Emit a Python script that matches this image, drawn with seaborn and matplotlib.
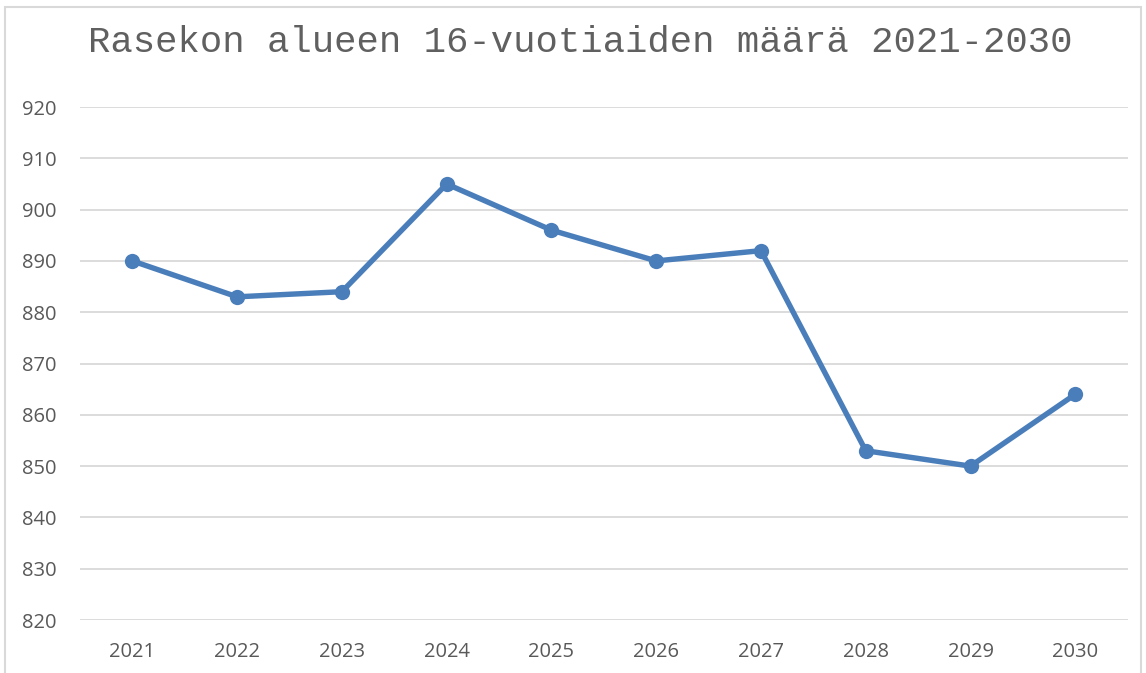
import pandas as pd
import matplotlib.pyplot as plt
import seaborn as sns
from matplotlib.patches import Rectangle

years = ['2021', '2022', '2023', '2024', '2025', '2026', '2027', '2028', '2029', '2030']
counts = [890, 883, 884, 905, 896, 890, 892, 853, 850, 864]

data = pd.DataFrame({'Vuosi': years, 'Määrä': counts})

sns.set_style('white')
plt.rcParams['font.family'] = ['Open Sans', 'DejaVu Sans']

fig = plt.figure(figsize=(11.46, 6.73), dpi=100)
ax = fig.add_axes([0.0698, 0.0787, 0.9142, 0.7623])

sns.lineplot(data=data, x='Vuosi', y='Määrä', ax=ax, color='#4a7ebb',
             linewidth=3.9, marker='o', markersize=11, markeredgewidth=0, sort=False)

ax.set_xlim(-0.5, len(years) - 0.5)
ax.set_ylim(820, 920)
ax.set_yticks(range(820, 921, 10))
ax.yaxis.grid(True, color='#d9d9d9', linewidth=1.3)
ax.set_axisbelow(True)
for s in ax.spines.values():
    s.set_visible(False)
ax.tick_params(axis='both', length=0, labelsize=14.5, colors='#595959')
ax.tick_params(axis='x', pad=16)
ax.tick_params(axis='y', pad=17)
ax.set_xlabel('')
ax.set_ylabel('')

fig.text(0.506, 0.937, 'Rasekon alueen 16-vuotiaiden määrä 2021-2030',
         ha='center', va='center', fontsize=26.8, color='#606060',
         family=['Liberation Mono', 'DejaVu Sans Mono'])

fig.patches.append(Rectangle((5 / 1146, -0.05), 1136 / 1146, 1.04,
                             transform=fig.transFigure, fill=False,
                             edgecolor='#d9d9d9', linewidth=1.5))

fig.savefig('out.png', dpi=100, facecolor='white')
